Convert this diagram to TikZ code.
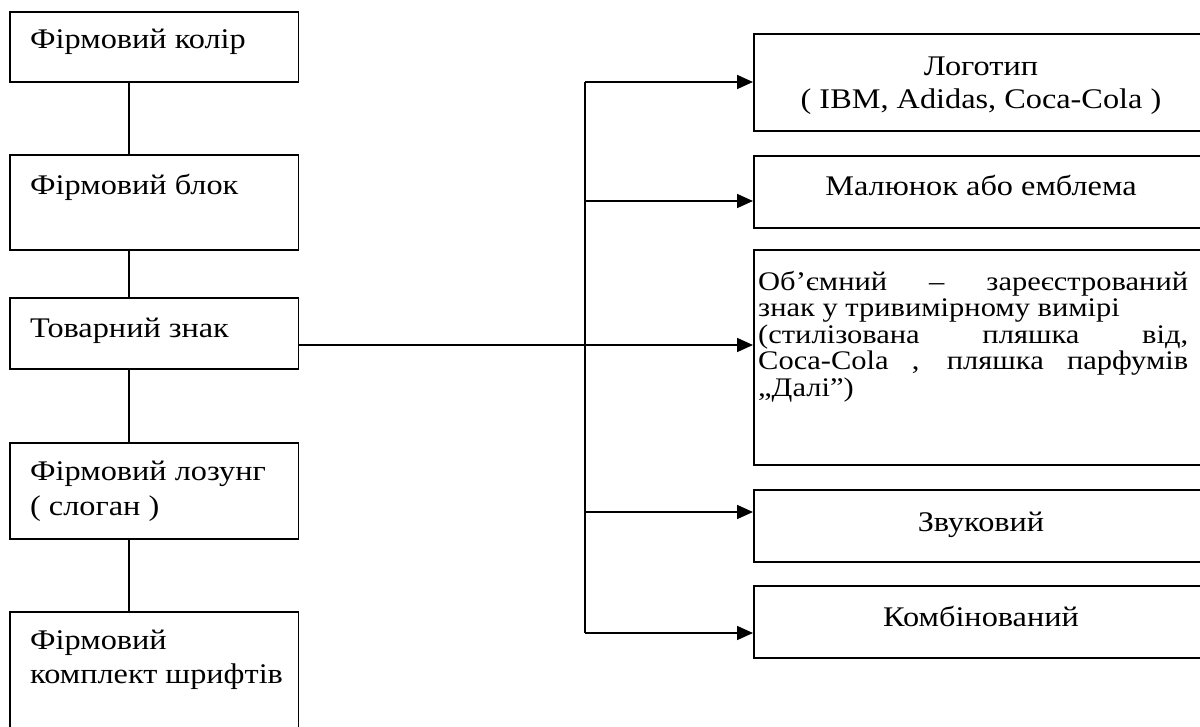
\documentclass[tikz,border=0pt]{standalone}
\usepackage{fontspec}
\setmainfont{Liberation Serif}
\usetikzlibrary{arrows.meta}
% one full-width justified line of the boxed description
\newcommand{\fullline}[1]{\makebox[430pt][s]{#1}}
% all lettering is set slightly condensed in height
\newcommand{\squat}[1]{\scalebox{1}[0.88]{#1}}
\begin{document}
\begin{tikzpicture}[x=1pt,y=-1pt,
  box/.style={draw, line width=1.8pt, rectangle, inner sep=0pt, anchor=north west},
  leftbox/.style={box, minimum width=288.5pt},
  rightbox/.style={box, minimum width=456pt},
  txt/.style={inner sep=0pt, font=\fontsize{32.3}{37}\selectfont},
  desc/.style={inner sep=0pt, anchor=base west, font=\fontsize{30.5}{35}\selectfont},
  lefttxt/.style={txt, anchor=base west},
  midtxt/.style={txt, anchor=base},
  link/.style={line width=1.4pt},
  bus/.style={line width=1.7pt},
  feed/.style={line width=1.7pt, -{Triangle[length=16pt,width=14pt]}}]
\useasboundingbox (0,0) rectangle (1200,726);
\clip (0,0) rectangle (1200,726);

% left column
\node[leftbox, minimum height=70pt]  (colour) at (9,11)  {};
\node[leftbox, minimum height=95pt]  (block)  at (9,154) {};
\node[leftbox, minimum height=71pt]  (mark)   at (9,297) {};
\node[leftbox, minimum height=96pt]  (slogan) at (9,442) {};
\node[leftbox, minimum height=150pt] (fonts)  at (9,611) {};

\node[lefttxt] (colourT) at (30,48)  {\squat{Фірмовий колір}};
\node[lefttxt] (blockT)  at (30,194) {\squat{Фірмовий блок}};
\node[lefttxt] (markT)   at (30,337) {\squat{Товарний знак}};
\node[lefttxt] (sloganA) at (30,480) {\squat{Фірмовий лозунг}};
\node[lefttxt] (sloganB) at (30,515) {\squat{( слоган )}};
\node[lefttxt] (fontsA)  at (30,649) {\squat{Фірмовий}};
\node[lefttxt] (fontsB)  at (30,683) {\squat{комплект шрифтів}};

\coordinate (spine) at (129,0);
\draw[link] (colour.south -| spine) -- (block.north -| spine);
\draw[link] (block.south -| spine)  -- (mark.north -| spine);
\draw[link] (mark.south -| spine)   -- (slogan.north -| spine);
\draw[link] (slogan.south -| spine) -- (fonts.north -| spine);

% right column
\node[rightbox, minimum height=97pt]  (logo)  at (753,33)  {};
\node[rightbox, minimum height=72pt]  (emb)   at (753,155) {};
\node[rightbox, minimum height=215pt] (vol)   at (753,249) {};
\node[rightbox, minimum height=72pt]  (sound) at (753,489) {};
\node[rightbox, minimum height=72pt]  (comb)  at (753,585) {};

\node[midtxt] (logoA)  at (981,75)  {\squat{Логотип}};
\node[midtxt] (logoB)  at (981,108) {\squat{( IBM, Adidas, Coca-Cola )}};
\node[midtxt] (embT)   at (981,195) {\squat{Малюнок або емблема}};
\node[midtxt] (soundT) at (981,531) {\squat{Звуковий}};
\node[midtxt] (combT)  at (981,626) {\squat{Комбінований}};

\node[desc] (volA) at (758,290)   {\squat{\fullline{Об’ємний – зареєстрований}}};
\node[desc] (volB) at (758,316.5) {\squat{знак у тривимірному вимірі}};
\node[desc] (volC) at (758,343)   {\squat{\fullline{(стилізована пляшка від,}}};
\node[desc] (volD) at (758,369.5) {\squat{\fullline{Coca-Cola , пляшка парфумів}}};
\node[desc] (volE) at (758,396)   {\squat{„Далі”)}};

% connectors
\coordinate (trunk) at (0,345);
\coordinate (b1) at (585,82);
\coordinate (b2) at (585,201);
\coordinate (b4) at (585,512);
\coordinate (b5) at (585,633);
\draw[link] (mark.east |- trunk) -- (b1 |- trunk);
\draw[feed] (b1 |- trunk) -- (vol.west |- trunk);
\draw[bus] (b1) -- (b5);
\draw[feed] (b1) -- (logo.west |- b1);
\draw[feed] (b2) -- (emb.west |- b2);
\draw[feed] (b4) -- (sound.west |- b4);
\draw[feed] (b5) -- (comb.west |- b5);
\end{tikzpicture}
\end{document}
